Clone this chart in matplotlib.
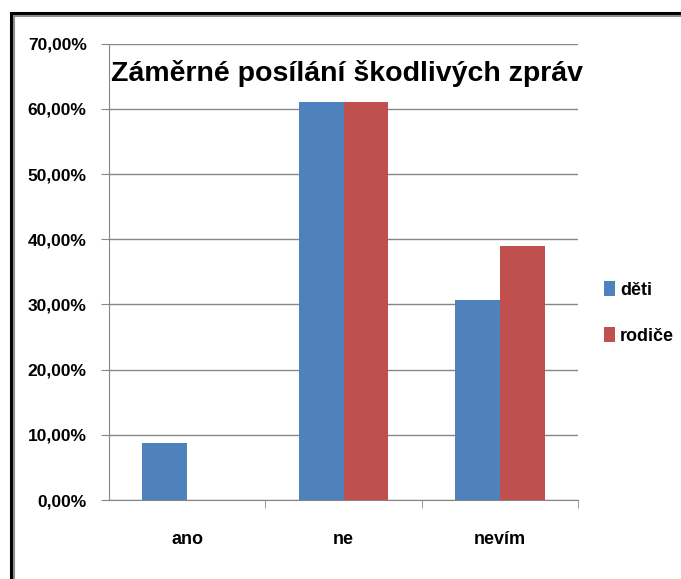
import numpy as np
import matplotlib.pyplot as plt
from matplotlib.patches import Rectangle
from matplotlib.ticker import FuncFormatter

plt.rcParams['font.family'] = ['Liberation Sans', 'DejaVu Sans']

categories = ['ano', 'ne', 'nevím']
deti = [8.75, 61.0, 30.7]
rodice = [0.0, 61.0, 39.0]
title = 'Záměrné posílání škodlivých zpráv'

fig = plt.figure(figsize=(6.81, 5.79), dpi=100)
ax = fig.add_axes([0.160, 0.1364, 0.689, 0.788])

x = np.arange(len(categories))
w = 0.286
ax.bar(x - w / 2, deti, w, color='#4f81bd', label='děti', zorder=3)
ax.bar(x + w / 2, rodice, w, color='#c0504d', label='rodiče', zorder=3)

ax.set_xlim(-0.5, 2.5)
ax.set_ylim(0, 70)
ax.set_yticks(np.arange(0, 71, 10))
ax.yaxis.set_major_formatter(FuncFormatter(lambda v, p: f'{v:.2f}%'.replace('.', ',')))
ax.grid(axis='y', color='#868686', linewidth=1, zorder=0)
ax.set_xticks(x)
ax.set_xticklabels(categories, fontsize=13, fontweight='bold')
ax.set_xticks([0.5, 1.5, 2.5], minor=True)
ax.tick_params(axis='x', which='major', length=0, pad=22)
ax.tick_params(axis='x', which='minor', length=6, color='#868686')
ax.tick_params(axis='y', length=6, color='#868686', labelsize=12.5, pad=10)
for lab in ax.get_yticklabels():
    lab.set_fontweight('bold')

for side in ['top', 'right']:
    ax.spines[side].set_visible(False)
for side in ['left', 'bottom']:
    ax.spines[side].set_color('#868686')

ax.text(1.02, 65.4, title, ha='center', va='center', fontsize=20.5, fontweight='bold')

ax.legend(loc='center left', bbox_to_anchor=(1.02, 0.41), frameon=False,
          prop={'size': 13, 'weight': 'bold'}, handlelength=0.6, handleheight=0.9,
          handletextpad=0.3, labelspacing=1.6)

# double frame round the chart (black outside, grey inside)
fig.patches.append(Rectangle((0.0165, -0.05), 1.05, 1.027, transform=fig.transFigure,
                             fill=False, edgecolor='black', linewidth=2.2))
fig.patches.append(Rectangle((0.0205, -0.05), 1.05, 1.022, transform=fig.transFigure,
                             fill=False, edgecolor='#8c8c8c', linewidth=1.5))

fig.savefig('out.png', dpi=100)
